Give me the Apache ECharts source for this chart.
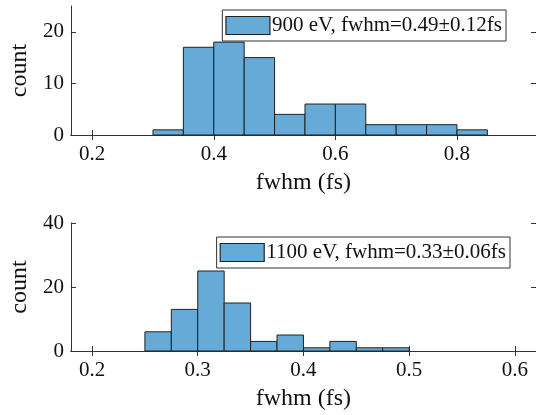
<!DOCTYPE html>
<html>
<head>
<meta charset="utf-8">
<script src="https://cdn.jsdelivr.net/npm/echarts@6/dist/echarts.min.js"></script>
<style>
  html, body { margin: 0; padding: 0; background: #fff; }
  #main { width: 536px; height: 415px; }
</style>
</head>
<body>
<div id="main"></div>
<script>
// histogram data
var topBinLeft = [0.30, 0.35, 0.40, 0.45, 0.50, 0.55, 0.60, 0.65, 0.70, 0.75, 0.80];
var topBinWidth = 0.05;
var topCounts = [1, 17, 18, 15, 4, 6, 6, 2, 2, 2, 1];
var topXTicks = [0.2, 0.4, 0.6, 0.8];
var topYTicks = [0, 10, 20];

var botBinLeft = [0.25, 0.275, 0.30, 0.325, 0.35, 0.375, 0.40, 0.425, 0.45, 0.475];
var botBinWidth = 0.025;
var botCounts = [6, 13, 25, 15, 3, 5, 1, 3, 1, 1];
var botXTicks = [0.2, 0.3, 0.4, 0.5, 0.6];
var botYTicks = [0, 20, 40];

var topName = '900 eV, fwhm=0.49\u00b10.12fs';
var botName = '1100 eV, fwhm=0.33\u00b10.06fs';

var FONT = 'Liberation Serif';
var FILL = '#66AAD7';
var EDGE = '#222';
var AX = '#333';

function toBins(lefts, width, counts) {
  return lefts.map(function (l, i) { return [l, l + width, counts[i]]; });
}

function renderHist(params, api) {
  var p0 = api.coord([api.value(0), api.value(2)]);
  var p1 = api.coord([api.value(1), 0]);
  return {
    type: 'rect',
    shape: { x: p0[0], y: p0[1], width: p1[0] - p0[0], height: p1[1] - p0[1] },
    style: { fill: FILL, stroke: EDGE, lineWidth: 1 }
  };
}

function tickLabels(ticks, margin) {
  return {
    customValues: ticks, margin: margin,
    fontFamily: FONT, fontSize: 21, color: '#111',
    formatter: function (v) { return '{t|' + v + '}'; },
    rich: { t: { fontFamily: FONT, fontSize: 21, color: '#111' } }
  };
}

function xAxes(gi, min, max, ticks) {
  return [
    {
      type: 'value', gridIndex: gi, min: min, max: max, position: 'bottom',
      name: 'fwhm (fs)', nameLocation: 'middle', nameGap: 36,
      nameTextStyle: { fontFamily: FONT, fontSize: 24, color: '#111' },
      axisLine: { show: true, lineStyle: { color: AX, width: 1 } },
      axisTick: { show: true, inside: true, length: 5, customValues: ticks, lineStyle: { color: AX } },
      axisLabel: tickLabels(ticks, 9),
      splitLine: { show: false }
    },
    {
      type: 'value', gridIndex: gi, min: min, max: max, position: 'top',
      axisLine: { show: true, lineStyle: { color: AX, width: 1 } },
      axisTick: { show: true, inside: true, length: 5, customValues: ticks, lineStyle: { color: AX } },
      axisLabel: { show: false },
      splitLine: { show: false }
    }
  ];
}

function yAxes(gi, max, ticks) {
  return [
    {
      type: 'value', gridIndex: gi, min: 0, max: max, position: 'left',
      name: 'count', nameLocation: 'middle', nameGap: 38, nameRotate: 90,
      nameTextStyle: { fontFamily: FONT, fontSize: 24, color: '#111' },
      axisLine: { show: true, lineStyle: { color: AX, width: 1 } },
      axisTick: { show: true, inside: true, length: 5, customValues: ticks, lineStyle: { color: AX } },
      axisLabel: tickLabels(ticks, 7),
      splitLine: { show: false }
    },
    {
      type: 'value', gridIndex: gi, min: 0, max: max, position: 'right',
      axisLine: { show: true, lineStyle: { color: AX, width: 1 } },
      axisTick: { show: true, inside: true, length: 5, customValues: ticks, lineStyle: { color: AX } },
      axisLabel: { show: false },
      splitLine: { show: false }
    }
  ];
}

function legendBox(name, right, top) {
  return {
    data: [name],
    right: right, top: top,
    orient: 'vertical',
    padding: [5, 4, 5, 3],
    itemWidth: 44, itemHeight: 18,
    backgroundColor: '#fff',
    borderColor: AX, borderWidth: 1, borderRadius: 0,
    icon: 'rect',
    itemStyle: { color: FILL, borderColor: EDGE, borderWidth: 1.2 },
    textStyle: { fontFamily: FONT, fontSize: 21, color: '#111', padding: [0, 0, 0, -3] },
    selectedMode: false
  };
}

var chart = echarts.init(document.getElementById('main'), null, { renderer: 'canvas' });

var option = {
  animation: false,
  backgroundColor: '#fff',
  textStyle: { fontFamily: FONT },
  grid: [
    { left: 66, top: 6, width: 471, height: 129 },
    { left: 66, top: 223, width: 471, height: 128 }
  ],
  xAxis: xAxes(0, 0.165, 0.93, topXTicks).concat(xAxes(1, 0.18, 0.62, botXTicks)),
  yAxis: yAxes(0, 25, topYTicks).concat(yAxes(1, 40, botYTicks)),
  legend: [
    legendBox(topName, 30, 10),
    legendBox(botName, 26, 237)
  ],
  series: [
    {
      name: topName, type: 'custom', xAxisIndex: 0, yAxisIndex: 0,
      renderItem: renderHist,
      itemStyle: { color: FILL, borderColor: EDGE, borderWidth: 1 },
      encode: { x: [0, 1], y: 2 },
      data: toBins(topBinLeft, topBinWidth, topCounts)
    },
    {
      name: botName, type: 'custom', xAxisIndex: 2, yAxisIndex: 2,
      renderItem: renderHist,
      itemStyle: { color: FILL, borderColor: EDGE, borderWidth: 1 },
      encode: { x: [0, 1], y: 2 },
      data: toBins(botBinLeft, botBinWidth, botCounts)
    }
  ]
};

chart.setOption(option);
</script>
</body>
</html>
